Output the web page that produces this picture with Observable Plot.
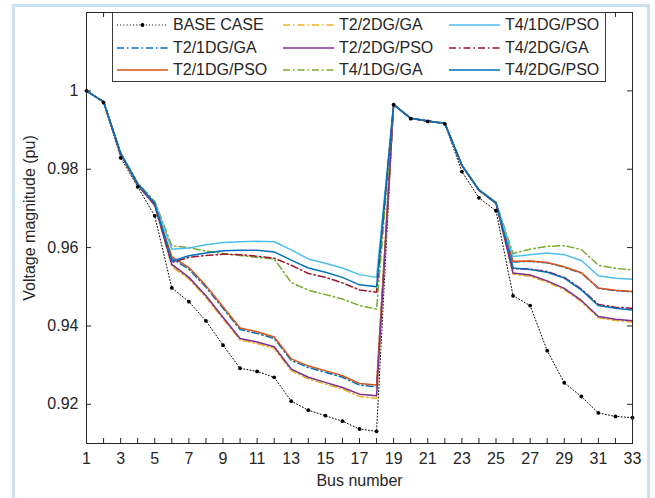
<!DOCTYPE html>
<html>
<head>
<meta charset="utf-8">
<script src="https://cdn.jsdelivr.net/npm/d3@7"></script>
<script src="https://cdn.jsdelivr.net/npm/@observablehq/plot@0.6"></script>
<style>
  body { margin: 0; background: #fff; font-family: "Liberation Sans", Arial, sans-serif; }
  #wrap { position: relative; width: 655px; height: 498px; overflow: hidden; background: #fff; }
  #border { position: absolute; left: 12px; top: 4px; width: 638px; height: 520px; border: 3px solid #cddff3; box-sizing: border-box; }
  #chart { position: absolute; left: 0; top: 0; }
  #ylabel { position: absolute; left: 30px; top: 218px; transform: translate(-50%, -50%) rotate(-90deg); font-size: 16px; line-height: 1; color: #262626; white-space: nowrap; }
  #legend { position: absolute; left: 112px; top: 12px; width: 494px; height: 70px; border: 1px solid #3a3a3a; background: #fff; box-sizing: border-box; }
  .item { position: absolute; height: 20px; display: flex; align-items: center; font-size: 16px; color: #262626; white-space: nowrap; }
  .item svg { margin-right: 5px; }
</style>
</head>
<body>
<div id="wrap"><div id="border"></div><div id="chart"></div><div id="ylabel"></div><div id="legend"></div></div>
<script>
// ---- data ----
const buses = [1,2,3,4,5,6,7,8,9,10,11,12,13,14,15,16,17,18,19,20,21,22,23,24,25,26,27,28,29,30,31,32,33];
const xTickLabels = [1,3,5,7,9,11,13,15,17,19,21,23,25,27,29,31,33];
const yTicks = [0.92,0.94,0.96,0.98,1.0];
const xLabel = "Bus number";
const yLabel = "Voltage magnitude (pu)";
const seriesNames = ["BASE CASE","T2/1DG/GA","T2/1DG/PSO","T2/2DG/GA","T2/2DG/PSO","T4/1DG/GA","T4/1DG/PSO","T4/2DG/GA","T4/2DG/PSO"];

const baseCase = [1.0000,0.9970,0.9829,0.9755,0.9681,0.9497,0.9462,0.9413,0.9351,0.9292,0.9284,0.9269,0.9208,0.9185,0.9171,0.9157,0.9137,0.9131,0.9965,0.9929,0.9922,0.9916,0.9794,0.9727,0.9694,0.9477,0.9452,0.9337,0.9255,0.9220,0.9178,0.9169,0.9166];
const t2_1dg_ga = [1.0000,0.9972,0.9839,0.9760,0.9709,0.9572,0.9545,0.9499,0.9445,0.9391,0.9381,0.9368,0.9312,0.9294,0.9282,0.9269,0.9249,0.9245,0.9965,0.9930,0.9923,0.9917,0.9810,0.9747,0.9714,0.9563,0.9565,0.9561,0.9550,0.9535,0.9496,0.9490,0.9487];
const t2_1dg_pso = [1.0000,0.9972,0.9840,0.9761,0.9710,0.9577,0.9549,0.9503,0.9449,0.9395,0.9385,0.9372,0.9316,0.9298,0.9286,0.9273,0.9253,0.9249,0.9965,0.9930,0.9923,0.9917,0.9810,0.9747,0.9714,0.9565,0.9566,0.9562,0.9551,0.9536,0.9497,0.9491,0.9488];
const t2_2dg_ga = [1.0000,0.9972,0.9838,0.9759,0.9707,0.9552,0.9520,0.9473,0.9418,0.9364,0.9355,0.9343,0.9286,0.9265,0.9252,0.9239,0.9220,0.9215,0.9965,0.9930,0.9923,0.9917,0.9809,0.9746,0.9712,0.9532,0.9527,0.9512,0.9493,0.9462,0.9421,0.9414,0.9410];
const t2_2dg_pso = [1.0000,0.9972,0.9839,0.9760,0.9708,0.9557,0.9524,0.9477,0.9422,0.9368,0.9359,0.9347,0.9290,0.9269,0.9256,0.9243,0.9226,0.9222,0.9965,0.9930,0.9923,0.9917,0.9810,0.9746,0.9713,0.9535,0.9530,0.9515,0.9496,0.9465,0.9424,0.9417,0.9413];
const t4_1dg_ga = [1.0000,0.9972,0.9842,0.9765,0.9718,0.9605,0.9600,0.9591,0.9585,0.9580,0.9575,0.9571,0.9511,0.9491,0.9480,0.9469,0.9452,0.9443,0.9965,0.9930,0.9923,0.9917,0.9811,0.9748,0.9716,0.9585,0.9596,0.9603,0.9605,0.9595,0.9555,0.9547,0.9543];
const t4_1dg_pso = [1.0000,0.9972,0.9841,0.9763,0.9714,0.9596,0.9599,0.9607,0.9613,0.9615,0.9616,0.9615,0.9594,0.9571,0.9560,0.9548,0.9531,0.9524,0.9965,0.9930,0.9923,0.9917,0.9810,0.9747,0.9714,0.9577,0.9582,0.9586,0.9582,0.9567,0.9528,0.9522,0.9519];
const t4_2dg_ga = [1.0000,0.9972,0.9840,0.9762,0.9712,0.9562,0.9575,0.9580,0.9583,0.9582,0.9578,0.9573,0.9555,0.9534,0.9524,0.9510,0.9492,0.9486,0.9965,0.9930,0.9923,0.9917,0.9810,0.9747,0.9714,0.9546,0.9545,0.9539,0.9524,0.9494,0.9455,0.9448,0.9445];
const t4_2dg_pso = [1.0000,0.9972,0.9841,0.9763,0.9713,0.9565,0.9579,0.9586,0.9592,0.9593,0.9593,0.9589,0.9568,0.9548,0.9537,0.9524,0.9505,0.9500,0.9965,0.9930,0.9923,0.9917,0.9810,0.9747,0.9714,0.9548,0.9544,0.9537,0.9522,0.9492,0.9452,0.9445,0.9441];

const seriesValues = [baseCase, t2_1dg_ga, t2_1dg_pso, t2_2dg_ga, t2_2dg_pso, t4_1dg_ga, t4_1dg_pso, t4_2dg_ga, t4_2dg_pso];

// ---- styles ----
const colors = ["#000000","#0072BD","#D95319","#EDB120","#7E2F8E","#77AC30","#4DBEEE","#A2142F","#0072BD"];
const dashes = ["1,2.2","7,3,1.5,3",null,"7,3,1.5,3",null,"7,3,1.5,3",null,"7,3,1.5,3",null];
const widths = [1,1.5,1.5,1.5,1.5,1.5,1.5,1.5,1.5];

const series = seriesNames.map((name, i) => ({
  name, color: colors[i], dash: dashes[i], width: widths[i],
  rows: seriesValues[i].map((v, j) => ({bus: buses[j], v}))
}));

const W = 655, H = 498, mL = 86, mR = 23, mT = 12, mB = 55;
const innerW = W - mL - mR, innerH = H - mT - mB;
const axisColor = "#262626";

const marks = [];
series.forEach(s => {
  marks.push(Plot.line(s.rows, {x: "bus", y: "v", stroke: s.color, strokeWidth: s.width,
    strokeDasharray: s.dash || undefined, strokeLinejoin: "round"}));
});
marks.push(Plot.dot(series[0].rows, {x: "bus", y: "v", r: 1.9, fill: "#000", stroke: null}));
marks.push(Plot.frame({stroke: axisColor, strokeWidth: 1}));
// inward ticks on all four sides
marks.push(Plot.tickX(buses, {x: d => d, insetTop: innerH - 5, stroke: axisColor}));
marks.push(Plot.tickX(buses, {x: d => d, insetBottom: innerH - 5, stroke: axisColor}));
marks.push(Plot.tickY(yTicks, {y: d => d, insetRight: innerW - 5, stroke: axisColor}));
marks.push(Plot.tickY(yTicks, {y: d => d, insetLeft: innerW - 5, stroke: axisColor}));
marks.push(Plot.axisX(xTickLabels, {tickSize: 0, tickPadding: 9, label: null, fontSize: 16, fill: axisColor}));
marks.push(Plot.axisY(yTicks, {tickSize: 0, tickPadding: 8, label: null, fontSize: 16, fill: axisColor,
  tickFormat: d => d === 1 ? "1" : d.toFixed(2)}));
marks.push(Plot.text([xLabel], {frameAnchor: "bottom", dy: 42, fontSize: 16, fill: axisColor, text: d => d}));

const chart = Plot.plot({
  width: W, height: H, marginLeft: mL, marginRight: mR, marginTop: mT, marginBottom: mB,
  style: {fontFamily: "'Liberation Sans', Arial, sans-serif", fontSize: "16px", background: "transparent", overflow: "visible"},
  x: {domain: [1, 33], axis: null},
  y: {domain: [0.91, 1.02], axis: null},
  marks
});
document.getElementById("chart").appendChild(chart);
document.getElementById("ylabel").textContent = yLabel;

// ---- legend (column-major, 3 rows) ----
const legend = document.getElementById("legend");
const colX = [4, 170, 336];
const rowY = [2, 24.5, 47];
series.forEach((s, i) => {
  const col = Math.floor(i / 3), row = i % 3;
  const item = document.createElement("div");
  item.className = "item";
  item.style.left = colX[col] + "px";
  item.style.top = rowY[row] + "px";
  const dashAttr = s.dash ? `stroke-dasharray="${s.dash}"` : "";
  const marker = i === 0 ? `<circle cx="25.5" cy="10" r="1.9" fill="#000"/>` : "";
  item.innerHTML = `<svg width="51" height="20"><line x1="0" y1="10" x2="51" y2="10" stroke="${s.color}" stroke-width="${s.width}" ${dashAttr}/>${marker}</svg><span>${s.name}</span>`;
  legend.appendChild(item);
});
</script>
</body>
</html>
